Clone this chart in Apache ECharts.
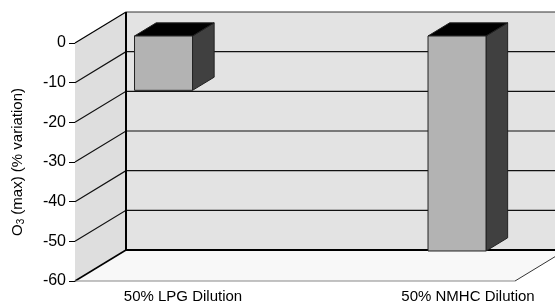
<!DOCTYPE html>
<html>
<head>
<meta charset="utf-8">
<script src="https://cdn.jsdelivr.net/npm/echarts@6/dist/echarts.min.js"></script>
<style>
  html, body { margin: 0; padding: 0; background: #fff; }
  #main { width: 555px; height: 304px; }
</style>
</head>
<body>
<div id="main"></div>
<script>
// data
var categories = ['50% LPG Dilution', '50% NMHC Dilution'];
var o3Variation = [-13.7, -54.2];
var yTicks = [0, -10, -20, -30, -40, -50, -60];

// fake 3d layout (pixels)
var FRONT_LEFT = 75, FRONT_RIGHT = 515;   // front edge of the floor
var DX = 51, DY = -31;                    // full depth offset
var D1 = 0.226, D2 = 0.65;                // bar front / back depth
var BAR_W = 58;
var GRID_LEFT = 152;

var chart = echarts.init(document.getElementById('main'));

function wallsItem(params, api) {
  var y0 = api.coord([0, 0])[1];
  var yEnd = api.coord([0, -60])[1];
  var FL = FRONT_LEFT, FR = FRONT_RIGHT;
  var kids = [];
  // left wall
  kids.push({ type: 'polygon', shape: { points: [[FL, y0], [FL + DX, y0 + DY], [FL + DX, yEnd + DY], [FL, yEnd]] },
    style: { fill: '#dedede' } });
  // back wall
  kids.push({ type: 'rect', shape: { x: FL + DX, y: y0 + DY, width: FR - FL, height: yEnd - y0 },
    style: { fill: '#e3e3e3' } });
  // floor
  kids.push({ type: 'polygon', shape: { points: [[FL, yEnd], [FR, yEnd], [FR + DX, yEnd + DY], [FL + DX, yEnd + DY]] },
    style: { fill: '#f8f8f8' } });
  // grid lines
  yTicks.forEach(function (v) {
    if (v === 0 || v === -60) return;
    var y = api.coord([0, v])[1];
    kids.push({ type: 'polyline', shape: { points: [[FL, y], [FL + DX, y + DY], [FR + DX, y + DY]] },
      style: { stroke: '#111', lineWidth: 1.2, fill: null } });
  });
  // edges
  kids.push({ type: 'line', shape: { x1: FL, y1: y0, x2: FL + DX, y2: y0 + DY }, style: { stroke: '#000', lineWidth: 1.2 } });
  kids.push({ type: 'line', shape: { x1: FL + DX, y1: y0 + DY, x2: FR + DX, y2: y0 + DY }, style: { stroke: '#333', lineWidth: 1 } });
  kids.push({ type: 'line', shape: { x1: FL + DX, y1: y0 + DY, x2: FL + DX, y2: yEnd + DY }, style: { stroke: '#000', lineWidth: 2 } });
  kids.push({ type: 'line', shape: { x1: FL + DX, y1: yEnd + DY, x2: FR + DX, y2: yEnd + DY }, style: { stroke: '#000', lineWidth: 2 } });
  kids.push({ type: 'line', shape: { x1: FL, y1: yEnd, x2: FL + DX, y2: yEnd + DY }, style: { stroke: '#000', lineWidth: 1.5 } });
  kids.push({ type: 'line', shape: { x1: FL, y1: yEnd, x2: FR, y2: yEnd }, style: { stroke: '#888', lineWidth: 1 } });
  kids.push({ type: 'line', shape: { x1: FR, y1: yEnd, x2: FR + DX, y2: yEnd + DY }, style: { stroke: '#333', lineWidth: 1 } });
  return { type: 'group', children: kids };
}

function barItem(params, api) {
  var top = api.coord([api.value(0), 0]);
  var bot = api.coord([api.value(0), api.value(1)]);
  var x0 = top[0] + D1 * DX - BAR_W / 2;
  var fy0 = top[1] + D1 * DY;
  var fyb = bot[1] + D1 * DY;
  var bdx = (D2 - D1) * DX, bdy = (D2 - D1) * DY;
  var x1 = x0 + BAR_W;
  var edge = { stroke: '#222', lineWidth: 1 };
  return {
    type: 'group',
    children: [
      { type: 'polygon', shape: { points: [[x1, fy0], [x1 + bdx, fy0 + bdy], [x1 + bdx, fyb + bdy], [x1, fyb]] },
        style: Object.assign({ fill: '#404040' }, edge) },
      { type: 'polygon', shape: { points: [[x0, fy0], [x1, fy0], [x1 + bdx, fy0 + bdy], [x0 + bdx, fy0 + bdy]] },
        style: Object.assign({ fill: '#000' }, edge) },
      { type: 'rect', shape: { x: x0, y: fy0, width: BAR_W, height: fyb - fy0 },
        style: Object.assign({ fill: '#b3b3b3' }, edge) }
    ]
  };
}

var option = {
  animation: false,
  grid: { left: GRID_LEFT, right: 109.5, top: 43, bottom: 21, containLabel: false },
  xAxis: {
    type: 'category',
    data: categories,
    boundaryGap: false,
    axisLine: { show: false },
    axisTick: { show: false },
    axisLabel: {
      margin: 8,
      interval: 0,
      formatter: function (value, index) {
        return '{c' + index + '|' + value + '}';
      },
      rich: {
        c0: { fontFamily: 'Liberation Sans', fontSize: 15, color: '#000', padding: [0, 0, 0, 62] },
        c1: { fontFamily: 'Liberation Sans', fontSize: 15, color: '#000', padding: [0, 0, 0, 45] }
      }
    }
  },
  yAxis: {
    type: 'value',
    min: -60,
    max: 0,
    interval: 10,
    offset: GRID_LEFT - FRONT_LEFT,
    name: 'O{s|3} (max) (% variation)',
    nameLocation: 'middle',
    nameGap: 49,
    nameTextStyle: {
      fontFamily: 'Liberation Sans', fontSize: 15, color: '#000',
      rich: { s: { fontFamily: 'Liberation Sans', fontSize: 10, color: '#000', verticalAlign: 'bottom', padding: [6, 0, 0, 0] } }
    },
    axisLine: { show: true, lineStyle: { color: '#000', width: 1 } },
    axisTick: { show: true, length: 6, lineStyle: { color: '#000' } },
    axisLabel: { margin: 9, fontFamily: 'Liberation Sans', fontSize: 16, color: '#000' },
    splitLine: { show: false }
  },
  series: [
    {
      type: 'custom',
      renderItem: wallsItem,
      data: [[0, 0]],
      silent: true,
      z: 1
    },
    {
      type: 'custom',
      renderItem: barItem,
      data: o3Variation.map(function (v, i) { return [i, v]; }),
      z: 2
    }
  ]
};

chart.setOption(option);
</script>
</body>
</html>
